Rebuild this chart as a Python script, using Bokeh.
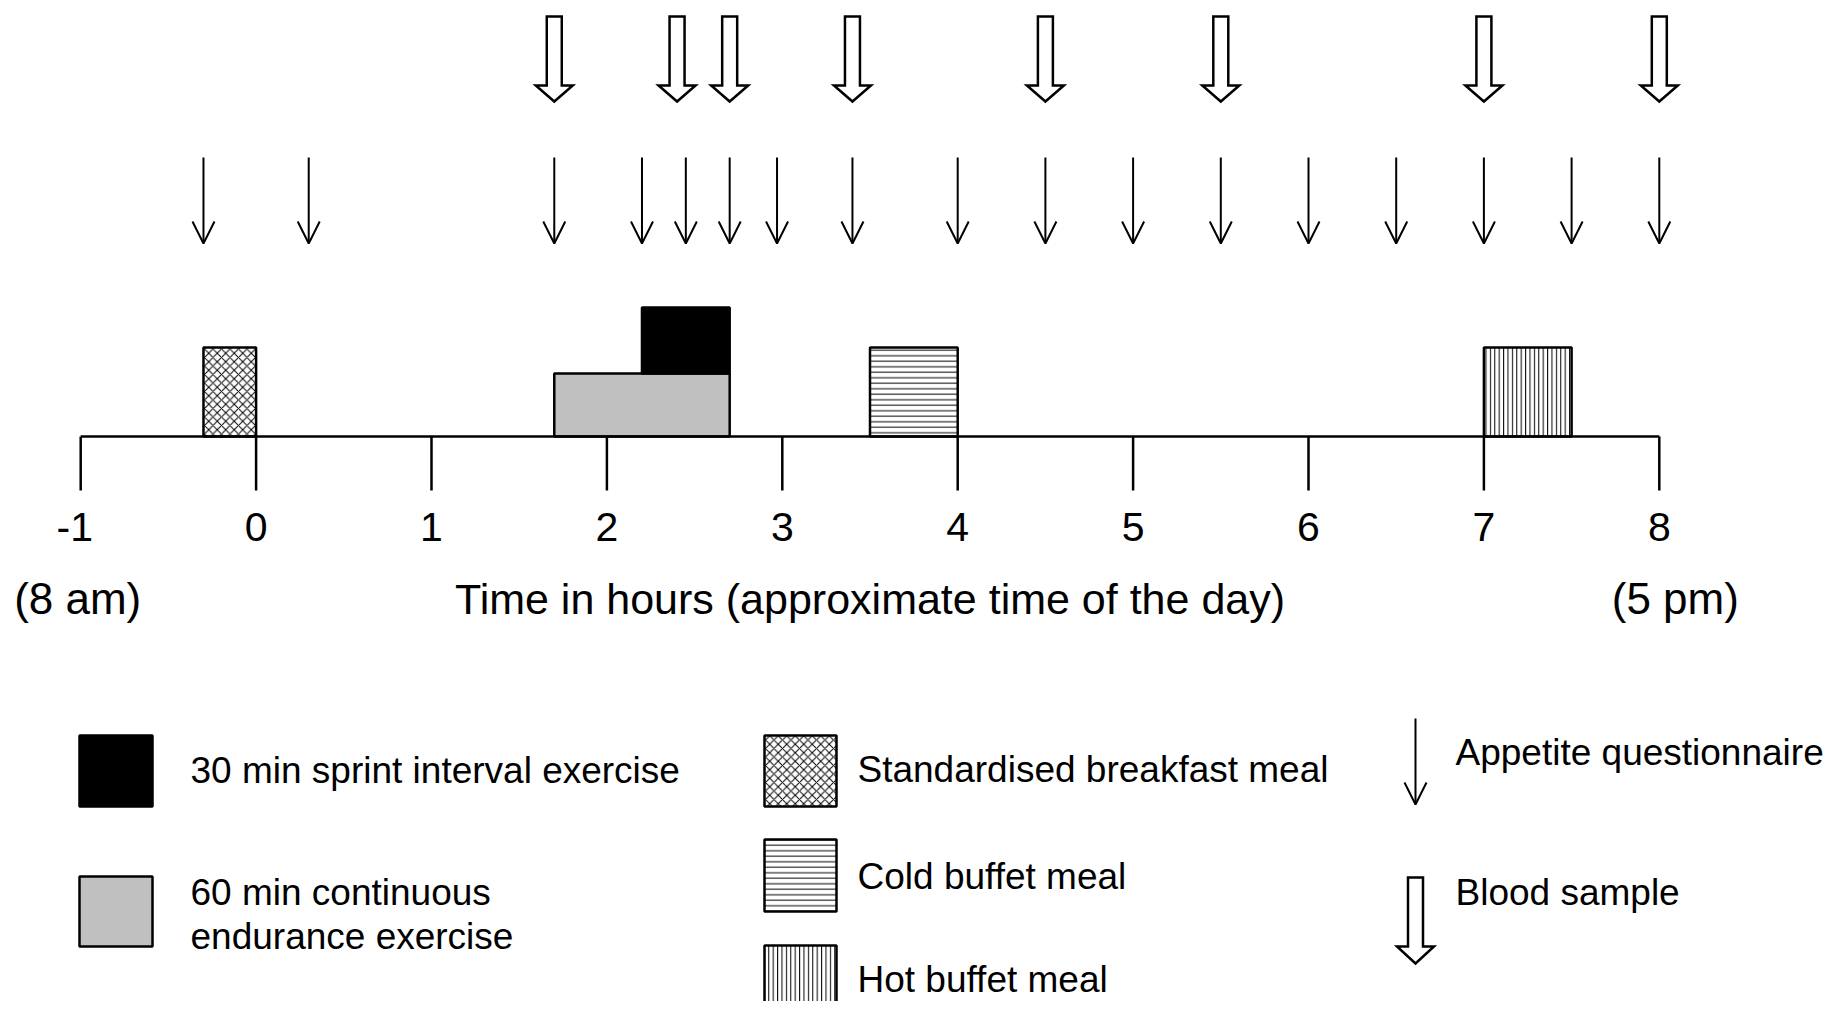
from bokeh.plotting import figure
from bokeh.models import Range1d, ColumnDataSource, Arrow, OpenHead
from bokeh.embed import file_html
from bokeh.resources import INLINE
from bokeh.core.properties import value

# ---------------- data ----------------
tick_hours = [-1, 0, 1, 2, 3, 4, 5, 6, 7, 8]
tick_labels = ["-1", "0", "1", "2", "3", "4", "5", "6", "7", "8"]
clock_hours = [-1, 8]
clock_labels = ["(8 am)", "(5 pm)"]
axis_title = "Time in hours (approximate time of the day)"

questionnaire_hours = [-0.3, 0.3, 1.7, 2.2, 2.45, 2.7, 2.97, 3.4, 4.0, 4.5,
                       5.0, 5.5, 6.0, 6.5, 7.0, 7.5, 8.0]
blood_sample_hours = [1.7, 2.4, 2.7, 3.4, 4.5, 5.5, 7.0, 8.0]

exercise_names = ["30 min sprint interval exercise",
                  "60 min continuous endurance exercise"]
exercise_legend_lines = [["30 min sprint interval exercise"],
                         ["60 min continuous", "endurance exercise"]]
exercise_start = [2.2, 1.7]
exercise_end = [2.7, 2.7]

meal_names = ["Standardised breakfast meal", "Cold buffet meal", "Hot buffet meal"]
meal_start = [-0.3, 3.5, 7.0]
meal_end = [0.0, 4.0, 7.5]

marker_names = ["Appetite questionnaire", "Blood sample"]

# ---------------- layout / style ----------------
W, H = 1827, 1001
X0_PX, HOUR_PX = 255.6, 175.4          # px of hour 0, px per hour


def px_to_h(x):
    return (x - X0_PX) / HOUR_PX


FONT = value("Liberation Sans")
AXIS_Y = 436
TICK_BOTTOM = 490
TICK_LABEL_Y = 526.5
TITLE_Y = 598
EX_TOPS = [307, 373]
EX_BOTTOMS = [373, AXIS_Y]
EX_COLORS = ["black", "#c0c0c0"]
MEAL_TOP = 347
MEAL_HATCH = ["diagonal_cross", "horizontal_line", "vertical_line"]
MEAL_HATCH_SCALE = [8.5, 5.5, 4.4]

p = figure(width=W, height=H,
           x_range=Range1d(px_to_h(0), px_to_h(W)),
           y_range=Range1d(H, 0),
           output_backend="svg", toolbar_location=None,
           x_axis_location=None, y_axis_location=None,
           min_border=0, outline_line_color=None,
           background_fill_color="white", border_fill_color="white")
p.extra_x_ranges = {"px": Range1d(0, W)}
p.grid.visible = False

# exercise blocks (endurance first, sprint on top)
ex_src = ColumnDataSource(dict(left=exercise_start[::-1], right=exercise_end[::-1],
                               top=EX_TOPS[::-1], bottom=EX_BOTTOMS[::-1],
                               color=EX_COLORS[::-1]))
p.quad(left="left", right="right", top="top", bottom="bottom", fill_color="color",
       line_color="black", line_width=2.5, source=ex_src)

# meal blocks
meal_src = ColumnDataSource(dict(left=meal_start, right=meal_end,
                                 top=[MEAL_TOP] * len(meal_start),
                                 bottom=[AXIS_Y] * len(meal_start),
                                 hatch=MEAL_HATCH, hscale=MEAL_HATCH_SCALE))
p.quad(left="left", right="right", top="top", bottom="bottom", fill_color="white",
       hatch_pattern="hatch", hatch_scale="hscale", hatch_weight=1, hatch_color="black",
       line_color="black", line_width=2.5, source=meal_src)

# time axis
p.segment(x0=[tick_hours[0]], x1=[tick_hours[-1]], y0=[AXIS_Y], y1=[AXIS_Y],
          line_color="black", line_width=2.5)
p.segment(x0=tick_hours, x1=tick_hours, y0=[AXIS_Y] * len(tick_hours),
          y1=[TICK_BOTTOM] * len(tick_hours), line_color="black", line_width=2.5)
p.text(x=tick_hours, y=[TICK_LABEL_Y] * len(tick_hours), text=tick_labels,
       x_offset=[-6 if t.startswith("-") else 0 for t in tick_labels],
       text_align="center", text_baseline="alphabetic", text_font=FONT,
       text_font_size="41px", text_color="black")
p.text(x=clock_hours, y=[TITLE_Y] * 2, text=clock_labels, x_offset=[-3, 16],
       text_align="center", text_baseline="alphabetic", text_font=FONT,
       text_font_size="44px", text_color="black")
p.text(x=[(tick_hours[0] + tick_hours[-1]) / 2], y=[TITLE_Y], text=[axis_title],
       text_align="center", text_baseline="alphabetic", text_font=FONT,
       text_font_size="43px", text_color="black")

# appetite questionnaire arrows
q_src = ColumnDataSource(dict(x=questionnaire_hours, y0=[157] * len(questionnaire_hours),
                              y1=[243] * len(questionnaire_hours)))
p.add_layout(Arrow(end=OpenHead(size=22, line_width=2, line_color="black"),
                   x_start="x", y_start="y0", x_end="x", y_end="y1", source=q_src,
                   line_width=2, line_color="black"))

# blood sample block arrows
SHAFT, HEAD = 7.5, 18.5


def block_arrow(xc, top, head_y, tip, unit):
    a, b = SHAFT / unit, HEAD / unit
    return ([xc - a, xc + a, xc + a, xc + b, xc, xc - b, xc - a],
            [top, top, head_y, head_y, tip, head_y, head_y])


bxs, bys = [], []
for t in blood_sample_hours:
    xs_, ys_ = block_arrow(t, 16, 85, 101, HOUR_PX)
    bxs.append(xs_)
    bys.append(ys_)
p.patches(bxs, bys, fill_color="white", line_color="black", line_width=2.5,
          line_join="miter")

# ---------------- legend (px coordinates) ----------------
p.quad(left=[79, 79], right=[152, 152], top=[735, 876], bottom=[806, 946],
       fill_color=EX_COLORS, line_color="black", line_width=2.5, x_range_name="px")
ex_text, ex_y = [], []
for lines, base in zip(exercise_legend_lines, [770, 892]):
    for i, ln in enumerate(lines):
        ex_text.append(ln)
        ex_y.append(base + 44 * i)
p.text(x=[190] * len(ex_text), y=ex_y, text=ex_text, x_range_name="px",
       text_align="left", text_baseline="alphabetic", text_font=FONT,
       text_font_size="37px", text_color="black")

p.quad(left=[764] * 3, right=[836] * 3, top=[735, 839, 945], bottom=[806, 911, 1017],
       fill_color="white", hatch_pattern=MEAL_HATCH, hatch_scale=MEAL_HATCH_SCALE,
       hatch_weight=1, hatch_color="black", line_color="black", line_width=2.5,
       x_range_name="px")
p.text(x=[857] * 3, y=[769, 876, 979], text=meal_names, x_range_name="px",
       text_align="left", text_baseline="alphabetic", text_font=FONT,
       text_font_size="37px", text_color="black")

leg_q = ColumnDataSource(dict(x=[1415], y0=[718], y1=[804]))
p.add_layout(Arrow(end=OpenHead(size=22, line_width=2, line_color="black"),
                   x_start="x", y_start="y0", x_end="x", y_end="y1", source=leg_q,
                   line_width=2, line_color="black", x_range_name="px"))
lx, ly = block_arrow(1415, 877, 946, 963, 1.0)
p.patches([lx], [ly], fill_color="white", line_color="black", line_width=2.5,
          line_join="miter", x_range_name="px")
p.text(x=[1455, 1455], y=[752, 892], text=marker_names, x_range_name="px",
       text_align="left", text_baseline="alphabetic", text_font=FONT,
       text_font_size="37px", text_color="black")

open("out.html", "w").write(file_html(p, INLINE))
